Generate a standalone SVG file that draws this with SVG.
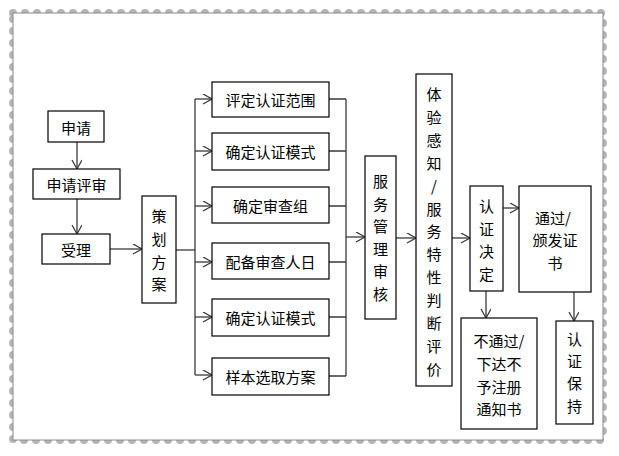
<svg xmlns="http://www.w3.org/2000/svg" width="619" height="456" viewBox="0 0 619 456">
<style>
.box{fill:#fff;stroke:#000;stroke-width:1.2}
.t{font-family:"Noto Sans CJK SC","Liberation Sans",sans-serif;font-size:15px;fill:#000;text-anchor:middle;dominant-baseline:central}
.c{fill:none;stroke:#3a3a3a;stroke-width:1.3}
.a{marker-end:url(#arr)}
</style>
<defs>
<marker id="arr" markerUnits="userSpaceOnUse" markerWidth="12" markerHeight="12" refX="10" refY="5" orient="auto">
<path d="M1,0 L10,5 L1,10" fill="none" stroke="#3a3a3a" stroke-width="1.3"/>
</marker>
</defs>
<rect width="619" height="456" fill="#fff"/>
<g id="frame">
<rect x="13" y="13" width="590" height="427" fill="none" stroke="#b5b5b5" stroke-width="8" stroke-dasharray="0 12" stroke-linecap="round"/>
<rect x="13" y="13" width="590" height="427" fill="#fff" stroke="#8a8a8a" stroke-width="1"/>
</g>
<g id="connectors">
<line class="c a" x1="77" y1="142" x2="77" y2="169"/>
<line class="c a" x1="77" y1="199" x2="77" y2="234"/>
<line class="c a" x1="110" y1="249" x2="142" y2="249"/>
<line class="c" x1="176" y1="250" x2="195" y2="250"/>
<line class="c" x1="195" y1="99" x2="195" y2="375"/>
<line class="c a" x1="195" y1="99" x2="212" y2="99"/>
<line class="c a" x1="195" y1="151" x2="212" y2="151"/>
<line class="c a" x1="195" y1="206" x2="212" y2="206"/>
<line class="c a" x1="195" y1="262" x2="212" y2="262"/>
<line class="c a" x1="195" y1="317" x2="212" y2="317"/>
<line class="c a" x1="195" y1="375" x2="212" y2="375"/>
<path class="c" d="M329,99 H346 M329,151 H346 M329,206 H346 M329,262 H346 M329,317 H346 M329,376 H346 M346,99 V376"/>
<line class="c a" x1="346" y1="237" x2="365" y2="237"/>
<line class="c a" x1="396" y1="238" x2="416" y2="238"/>
<line class="c a" x1="452" y1="238" x2="470" y2="238"/>
<line class="c a" x1="503" y1="208" x2="519" y2="208"/>
<line class="c a" x1="486" y1="291" x2="486" y2="318"/>
<line class="c a" x1="574" y1="292" x2="574" y2="321"/>
</g>
<g id="n-shenqing"><rect class="box" x="48" y="111" width="56" height="31"/><text class="t" x="76" y="127">申请</text></g>
<g id="n-shenqingpingshen"><rect class="box" x="33" y="169" width="87" height="30"/><text class="t" x="76.5" y="184">申请评审</text></g>
<g id="n-shouli"><rect class="box" x="42" y="234" width="68" height="30"/><text class="t" x="76" y="249">受理</text></g>
<g id="n-cehua"><rect class="box" x="142" y="196" width="34" height="107"/><text class="t"><tspan x="159" y="215">策</tspan><tspan x="159" y="238">划</tspan><tspan x="159" y="261">方</tspan><tspan x="159" y="283">案</tspan></text></g>
<g id="n-fanwei"><rect class="box" x="212" y="82" width="117" height="35"/><text class="t" x="270.5" y="99.5">评定认证范围</text></g>
<g id="n-moshi1"><rect class="box" x="212" y="133" width="117" height="37"/><text class="t" x="270.5" y="151.5">确定认证模式</text></g>
<g id="n-shenchazu"><rect class="box" x="212" y="187" width="117" height="36"/><text class="t" x="270.5" y="205">确定审查组</text></g>
<g id="n-renri"><rect class="box" x="212" y="243" width="117" height="36"/><text class="t" x="270.5" y="261">配备审查人日</text></g>
<g id="n-moshi2"><rect class="box" x="212" y="299" width="117" height="37"/><text class="t" x="270.5" y="317.5">确定认证模式</text></g>
<g id="n-yangben"><rect class="box" x="212" y="358" width="117" height="37"/><text class="t" x="270.5" y="376.5">样本选取方案</text></g>
<g id="n-fuwuguanli"><rect class="box" x="365" y="156" width="31" height="163"/><text class="t"><tspan x="380.5" y="180">服</tspan><tspan x="380.5" y="203">务</tspan><tspan x="380.5" y="225">管</tspan><tspan x="380.5" y="248">理</tspan><tspan x="380.5" y="270">审</tspan><tspan x="380.5" y="293">核</tspan></text></g>
<g id="n-tiyan"><rect class="box" x="416" y="74" width="36" height="312"/><text class="t"><tspan x="434" y="93">体</tspan><tspan x="434" y="116">验</tspan><tspan x="434" y="139">感</tspan><tspan x="434" y="162">知</tspan><tspan x="434" y="185">/</tspan><tspan x="434" y="208">服</tspan><tspan x="434" y="230">务</tspan><tspan x="434" y="253">特</tspan><tspan x="434" y="276">性</tspan><tspan x="434" y="299">判</tspan><tspan x="434" y="322">断</tspan><tspan x="434" y="345">评</tspan><tspan x="434" y="368">价</tspan></text></g>
<g id="n-jueding"><rect class="box" x="470" y="186" width="33" height="105"/><text class="t"><tspan x="486.5" y="205">认</tspan><tspan x="486.5" y="228">证</tspan><tspan x="486.5" y="250">决</tspan><tspan x="486.5" y="273">定</tspan></text></g>
<g id="n-tongguo"><rect class="box" x="519" y="186" width="72" height="106"/><text class="t"><tspan x="553" y="217">通过/</tspan><tspan x="555" y="239">颁发证</tspan><tspan x="555" y="262">书</tspan></text></g>
<g id="n-butongguo"><rect class="box" x="461" y="318" width="76" height="111"/><text class="t"><tspan x="499" y="340">不通过/</tspan><tspan x="499" y="363">下达不</tspan><tspan x="499" y="386">予注册</tspan><tspan x="499" y="408">通知书</tspan></text></g>
<g id="n-baochi"><rect class="box" x="556" y="321" width="37" height="103"/><text class="t"><tspan x="574.5" y="338">认</tspan><tspan x="574.5" y="360">证</tspan><tspan x="574.5" y="382">保</tspan><tspan x="574.5" y="405">持</tspan></text></g>
</svg>
